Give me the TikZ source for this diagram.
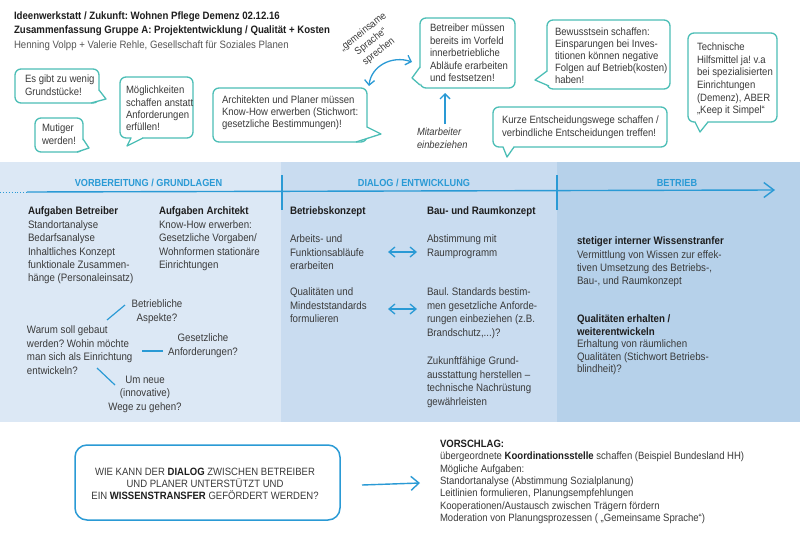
\documentclass[tikz,border=0pt]{standalone}
\usepackage{fontspec}
\setmainfont{Liberation Sans}[FakeStretch=0.9]
\usetikzlibrary{arrows.meta}
\frenchspacing
\definecolor{tealb}{HTML}{4CBEB6}
\definecolor{blu}{HTML}{2A9AD5}
\definecolor{txt}{HTML}{3A3A3A}
\definecolor{dark}{HTML}{1E1E1E}
\definecolor{graytxt}{HTML}{555555}
\definecolor{cola}{HTML}{DCE8F5}
\definecolor{colb}{HTML}{C9DCF0}
\definecolor{colc}{HTML}{B6D1EA}
\newcommand\myfs[2]{\fontsize{#1}{#2}\selectfont}
\newcommand\btail[4]{\fill[white] #1 -- #2 -- #3 -- #4 -- cycle; \draw[tailline] #1 -- #2 -- #3;}
\newcommand\bt[1]{\textbf{\textcolor{dark}{#1}}}
\tikzset{
  every node/.style={inner sep=0pt, outer sep=0pt, text=txt},
  bubble/.style={draw=tealb, line width=1.3pt, rounded corners=6pt, fill=white, anchor=north west},
  tailline/.style={draw=tealb, line width=1.3pt, line join=round},
  btext/.style={font=\myfs{10.6}{12.4}\frenchspacing, align=left, anchor=north west},
  body/.style={font=\myfs{10.8}{13.4}\frenchspacing, align=left, anchor=north west},
  qtext/.style={font=\myfs{10.8}{13.4}\frenchspacing, align=center, anchor=north},
  head/.style={font=\myfs{10.2}{12}\bfseries, text=blu},
  bl/.style={draw=blu, line width=1.4pt},
  barb/.style={-{Straight Barb[length=5pt,width=10pt]}},
  dbarb/.style={{Straight Barb[length=6pt,width=10pt]}-{Straight Barb[length=6pt,width=10pt]}},
  bigbarb/.style={-{Straight Barb[length=10pt,width=15pt]}},
}
\begin{document}
\begin{tikzpicture}[x=1pt,y=-1pt]
\useasboundingbox (0,0) rectangle (800,533);
\fill[white] (0,0) rectangle (800,533);

% header
\node[anchor=north west, align=left, font=\myfs{10.7}{14.2}\frenchspacing] (hdr) at (14,12)
  {\bt{Ideenwerkstatt / Zukunft: Wohnen Pflege Demenz 02.12.16}\\
   \bt{Zusammenfassung Gruppe A: Projektentwicklung / Qualität + Kosten}\\
   \textcolor{graytxt}{Henning Volpp + Valerie Rehle, Gesellschaft für Soziales Planen}};

% bubbles
\node[bubble, minimum width=84pt, minimum height=34pt] (b1) at (15,69) {};
\btail{(99,90)}{(106,99)}{(91,103)}{(94,97)}
\node[btext] (b1t) at (25,75) {Es gibt zu wenig\\Grundstücke!};

\node[bubble, minimum width=48pt, minimum height=34pt] (b2) at (35,118) {};
\btail{(83,139)}{(89,148)}{(77,152)}{(79,146)}
\node[btext] (b2t) at (42,124) {Mutiger\\werden!};

\node[bubble, minimum width=73pt, minimum height=61pt] (b3) at (120,77) {};
\btail{(131,138)}{(127,146)}{(143,138)}{(137,134)}
\node[btext] (b3t) at (126,86) {Möglichkeiten\\schaffen anstatt\\Anforderungen\\erfüllen!};

\node[bubble, minimum width=154pt, minimum height=54pt] (b4) at (213,88) {};
\btail{(367,127)}{(381,134)}{(356,142)}{(360,135)}
\node[btext, font=\myfs{10.6}{12}\frenchspacing] (b4t) at (222,96) {Architekten und Planer müssen\\Know-How erwerben (Stichwort:\\gesetzliche Bestimmungen)!};

\node[bubble, minimum width=95pt, minimum height=70pt] (b5) at (420,18) {};
\btail{(420,67)}{(412,78)}{(420,85)}{(425,76)}
\node[btext, font=\myfs{10.6}{12.5}\frenchspacing] (b5t) at (430,24) {Betreiber müssen\\bereits im Vorfeld\\innerbetriebliche\\Abläufe erarbeiten\\und festsetzen!};

\node[bubble, minimum width=123pt, minimum height=69pt] (b6) at (547,20) {};
\btail{(547,71)}{(535,80)}{(549,86)}{(552,78)}
\node[btext, font=\myfs{10.6}{12}\frenchspacing] (b6t) at (555,28) {Bewusstsein schaffen:\\Einsparungen bei Inves-\\titionen können negative\\Folgen auf Betrieb(kosten)\\haben!};

\node[bubble, minimum width=89pt, minimum height=89pt] (b7) at (688,33) {};
\btail{(695,122)}{(700,132)}{(708,122)}{(701,117)}
\node[btext, font=\myfs{10.6}{12.6}\frenchspacing] (b7t) at (697,43) {Technische\\Hilfsmittel ja! v.a\\bei spezialisierten\\Einrichtungen\\(Demenz), ABER\\„Keep it Simpel“};

\node[bubble, minimum width=174pt, minimum height=40pt] (b8) at (493,107) {};
\btail{(503,147)}{(507,157)}{(514,147)}{(508,142)}
\node[btext, font=\myfs{10.6}{12.8}\frenchspacing] (b8t) at (502,116) {Kurze Entscheidungswege schaffen /\\verbindliche Entscheidungen treffen!};

% annotations
\node[font=\myfs{10.2}{12.6}, align=center, rotate=38] (spr) at (371,42) {„gemeinsame\\Sprache“\\sprechen};
\coordinate (ca) at (369,86);
\coordinate (cb) at (412,62);
\draw[bl, line width=1.3pt, {Straight Barb[length=5pt,width=10pt]}-{Straight Barb[length=5pt,width=10pt]}]
  (ca) .. controls (371,66) and (392,55) .. (cb);
\node[anchor=north west, align=left, font=\myfs{10.4}{13.2}\itshape] (mit) at (417,128) {Mitarbeiter\\einbeziehen};
\coordinate (ma) at (445,124);
\coordinate (mb) at (445,93);
\draw[bl, barb] (ma) -- (mb);

% band
\fill[cola] (0,162) rectangle (281,422);
\fill[colb] (281,162) rectangle (557,422);
\fill[colc] (557,162) rectangle (800,422);
\draw[blu, line width=0.9pt, dotted] (0,192) -- (27,192);
\coordinate (t0) at (27,192);
\coordinate (t1) at (775,190);
\draw[bl, bigbarb] (t0) -- (t1);
\draw[bl] (282,175) -- (282,210);
\draw[bl] (557,175) -- (557,210);
\node[head] (h1) at (148.5,183) {VORBEREITUNG / GRUNDLAGEN};
\node[head] (h2) at (414,183) {DIALOG / ENTWICKLUNG};
\node[head] (h3) at (677,183) {BETRIEB};

% column 1
\node[body] (c1a) at (28,207) {\bt{Aufgaben Betreiber}\\Standortanalyse\\Bedarfsanalyse\\Inhaltliches Konzept\\funktionale Zusammen-\\hänge (Personaleinsatz)};
\node[body] (c1b) at (159,207) {\bt{Aufgaben Architekt}\\Know-How erwerben:\\Gesetzliche Vorgaben/\\Wohnformen stationäre\\Einrichtungen};
\node[qtext] (q1) at (157,300) {Betriebliche\\Aspekte?};
\node[body] (warum) at (27,326) {Warum soll gebaut\\werden? Wohin möchte\\man sich als Einrichtung\\entwickeln?};
\node[qtext] (q2) at (203,334) {Gesetzliche\\Anforderungen?};
\node[qtext] (q3) at (145,376) {Um neue\\(innovative)\\Wege zu gehen?};
\coordinate (w1) at (107,320); \coordinate (v1) at (125,305);
\coordinate (w2) at (142,351); \coordinate (v2) at (163,351);
\coordinate (w3) at (97,368);  \coordinate (v3) at (115,385);
\draw[bl, line width=1.2pt] (w1) -- (v1);
\draw[bl, line width=1.2pt] (w2) -- (v2);
\draw[bl, line width=1.2pt] (w3) -- (v3);

% column 2
\node[body] (c2a) at (290,207) {\bt{Betriebskonzept}};
\node[body] (c2b) at (290,235) {Arbeits- und\\Funktionsabläufe\\erarbeiten};
\node[body] (c2c) at (290,288) {Qualitäten und\\Mindeststandards\\formulieren};
\node[body] (c2d) at (427,207) {\bt{Bau- und Raumkonzept}};
\node[body] (c2e) at (427,235) {Abstimmung mit\\Raumprogramm};
\node[body] (c2f) at (427,288) {Baul. Standards bestim-\\men gesetzliche Anforde-\\rungen einbeziehen (z.B.\\Brandschutz,...)?};
\node[body] (c2g) at (427,357) {Zukunftfähige Grund-\\ausstattung herstellen –\\technische Nachrüstung\\gewährleisten};
\coordinate (d1a) at (388,252); \coordinate (d1b) at (417,252);
\coordinate (d2a) at (388,309); \coordinate (d2b) at (417,309);
\draw[bl, line width=1.3pt, dbarb] (d1a) -- (d1b);
\draw[bl, line width=1.3pt, dbarb] (d2a) -- (d2b);

% column 3
\node[body, font=\myfs{10.8}{13.3}\frenchspacing] (c3a) at (577,237) {\bt{stetiger interner Wissenstranfer}\\Vermittlung von Wissen zur effek-\\tiven Umsetzung des Betriebs-,\\Bau-, und Raumkonzept};
\node[body, font=\myfs{10.8}{12.5}\frenchspacing] (c3b) at (577,315) {\bt{Qualitäten erhalten /}\\\bt{weiterentwickeln}\\Erhaltung von räumlichen\\Qualitäten (Stichwort Betriebs-\\blindheit)?};

% bottom
\node[draw=blu, line width=1.5pt, rounded corners=12pt, minimum width=265pt, minimum height=75pt, anchor=north west] (qbox) at (75,445) {};
\node[font=\myfs{10.6}{12.2}\frenchspacing, align=center] (qt) at (205,484) {WIE KANN DER \bt{DIALOG} ZWISCHEN BETREIBER\\UND PLANER UNTERSTÜTZT UND\\EIN \bt{WISSENSTRANSFER} GEFÖRDERT WERDEN?};
\coordinate (pa) at (362,485);
\coordinate (pb) at (420,483);
\draw[bl, line width=1.4pt, -{Straight Barb[length=8pt,width=14pt]}] (pa) -- (pb);
\node[anchor=north west, align=left, font=\myfs{10.6}{12.35}\frenchspacing] (vor) at (440,440) {\bt{VORSCHLAG:}\\übergeordnete \bt{Koordinationsstelle} schaffen (Beispiel Bundesland HH)\\Mögliche Aufgaben:\\Standortanalyse (Abstimmung Sozialplanung)\\Leitlinien formulieren, Planungsempfehlungen\\Kooperationen/Austausch zwischen Trägern fördern\\Moderation von Planungsprozessen ( „Gemeinsame Sprache“)};
\end{tikzpicture}
\end{document}
